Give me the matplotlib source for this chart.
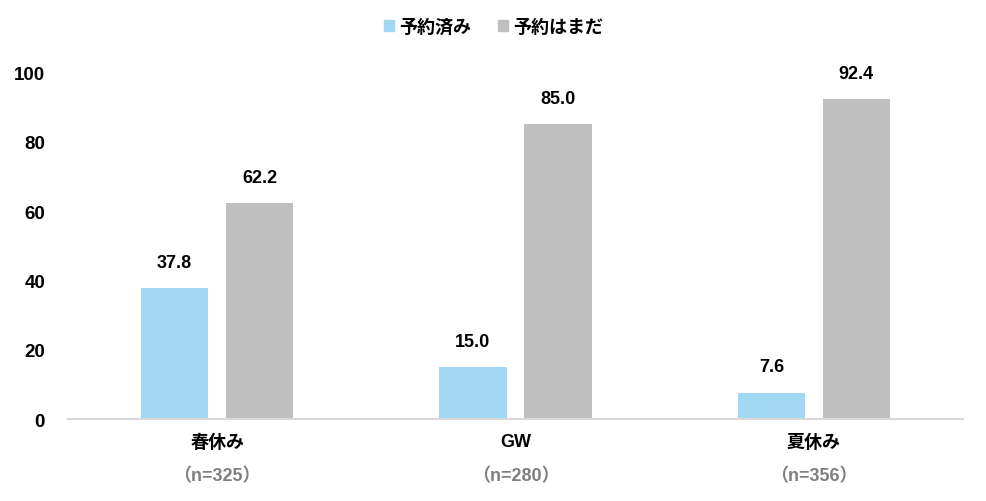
import numpy as np
import matplotlib
matplotlib.use('Agg')
from matplotlib import pyplot as plt
from matplotlib.patches import Patch

plt.rcParams['font.family'] = ['Liberation Sans', 'Noto Sans CJK JP', 'DejaVu Sans']

categories = ['春休み', 'GW', '夏休み']
sample_sizes = ['（n=325）', '（n=280）', '（n=356）']
booked = [37.8, 15.0, 7.6]
not_yet = [62.2, 85.0, 92.4]
series_names = ['予約済み', '予約はまだ']

c_blue = '#A1D8F4'
c_gray = '#BFBFBF'

fig = plt.figure(figsize=(9.87, 5.02), dpi=100)
ax = fig.add_axes([0.0689, 0.1633, 0.9068, 0.6903])

x = np.arange(len(categories))
w = 0.225
off = 0.1425
b1 = ax.bar(x - off, booked, w, color=c_blue)
b2 = ax.bar(x + off, not_yet, w, color=c_gray)

for bars, vals in ((b1, booked), (b2, not_yet)):
    for r, v in zip(bars, vals):
        ax.text(r.get_x() + r.get_width() / 2, v + 5.0, f'{v:.1f}',
                ha='center', va='bottom', fontsize=13, fontweight='bold')

ax.set_xlim(-0.5, 2.5)
ax.set_ylim(0, 100)
ax.set_yticks([0, 20, 40, 60, 80, 100])
ax.tick_params(axis='y', length=0, pad=16.5, labelsize=13.5)
for t in ax.get_yticklabels():
    t.set_fontweight('bold')
ax.set_xticks([])
for s in ['top', 'right', 'left']:
    ax.spines[s].set_visible(False)
ax.spines['bottom'].set_color('#D9D9D9')
ax.spines['bottom'].set_linewidth(1.5)

for i in range(len(categories)):
    ax.text(x[i], -6.6, categories[i], ha='center', va='center',
            fontsize=13, fontweight='bold', clip_on=False)
    ax.text(x[i], -16.4, sample_sizes[i], ha='center', va='center',
            fontsize=13, fontweight='bold', color='#7F7F7F', clip_on=False)

handles = [Patch(color=c_blue), Patch(color=c_gray)]
fig.legend(handles, series_names, loc='center', bbox_to_anchor=(0.5, 0.944),
           ncol=2, frameon=False, handlelength=0.55, handleheight=0.55,
           handletextpad=0.3, columnspacing=1.5, prop={'weight': 'bold', 'size': 13})

fig.savefig('out.png', dpi=100)
